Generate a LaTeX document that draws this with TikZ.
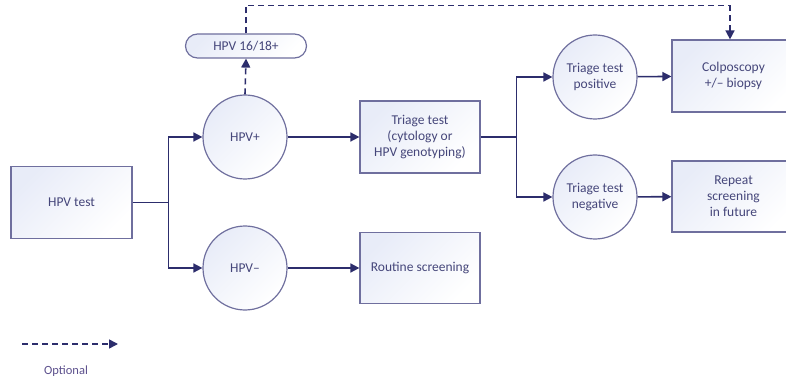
\documentclass[tikz,border=0pt]{standalone}
\usepackage{fontspec}
\setmainfont{Carlito}
\usetikzlibrary{arrows.meta,calc}
\definecolor{lineC}{HTML}{2C2D6C}
\definecolor{borderC}{HTML}{6F6F9E}
\definecolor{textC}{HTML}{45467A}
\definecolor{fillA}{HTML}{E8ECF8}
\definecolor{optC}{HTML}{5B4F8C}
\tikzset{
  base/.style={draw=borderC, line width=1.2pt, top color=fillA, bottom color=white, shading angle=45,
    text=textC, font=\fontsize{13.5}{16}\selectfont, align=center, inner sep=0pt},
  boxn/.style={base, rectangle, minimum width=#1},
  circn/.style={base, circle, minimum size=84pt},
  conn/.style={draw=lineC, line width=1.6pt},
  arr/.style={conn, -{Triangle[length=9pt,width=9pt]}},
  darr/.style={arr, dash pattern=on 6pt off 4pt},
  dln/.style={conn, dash pattern=on 6pt off 4pt}
}
\begin{document}
\begin{tikzpicture}[x=1pt,y=-1pt]
\useasboundingbox (0,0) rectangle (786,379);
\clip (0,0) rectangle (786,379);
\node[boxn=121pt, minimum height=72pt] (test) at (71.5,202.5) {HPV test};
\node[circn] (hpvp) at (245,137) {HPV+};
\node[circn] (hpvm) at (245,268) {HPV\textendash};
\node[base, rectangle, rounded corners=12pt, minimum width=121pt, minimum height=24pt] (g1618) at (246,46) {HPV 16/18+};
\node[boxn=120pt, minimum height=72pt] (triage) at (420,137) {Triage test\\(cytology or\\HPV genotyping)};
\node[boxn=120pt, minimum height=71pt] (routine) at (420,268) {Routine screening};
\node[circn] (pos) at (595,77) {Triage test\\positive};
\node[circn] (neg) at (595,197) {Triage test\\negative};
\node[boxn=126pt, minimum height=72pt] (colpo) at (735,76) {\hspace*{-3pt}Colposcopy\\\hspace*{-3pt}+/\textendash\ biopsy};
\node[boxn=126pt, minimum height=71pt] (repeat) at (735,196.5) {\hspace*{-3pt}Repeat\\\hspace*{-3pt}screening\\\hspace*{-3pt}in future};
% connectors
\draw[conn] (test.east) -- ++(36,0) coordinate (b1);
\draw[arr] (b1) |- (hpvp);
\draw[arr] (b1) |- (hpvm);
\draw[arr] (hpvp) -- (triage);
\draw[arr] (hpvm) -- (routine);
\draw[conn] (triage.east) -- ++(36,0) coordinate (b2);
\draw[arr] (b2) |- (pos);
\draw[arr] (b2) |- (neg);
\draw[arr] (pos) -- (colpo);
\draw[arr] (neg) -- (repeat);
\draw[darr] (hpvp.north) -- (g1618.south);
\coordinate (top) at (730,5.5);
\draw[dln] (g1618.north) |- (top);
\draw[darr] (top) -- (top |- colpo.north);
% legend
\coordinate (l1) at (22,344);
\coordinate (l2) at (118,344);
\draw[darr] (l1) -- (l2);
\node[text=optC, font=\fontsize{12.5}{14}\selectfont, inner sep=0pt] (opt) at (66,371) {Optional};
\end{tikzpicture}
\end{document}
